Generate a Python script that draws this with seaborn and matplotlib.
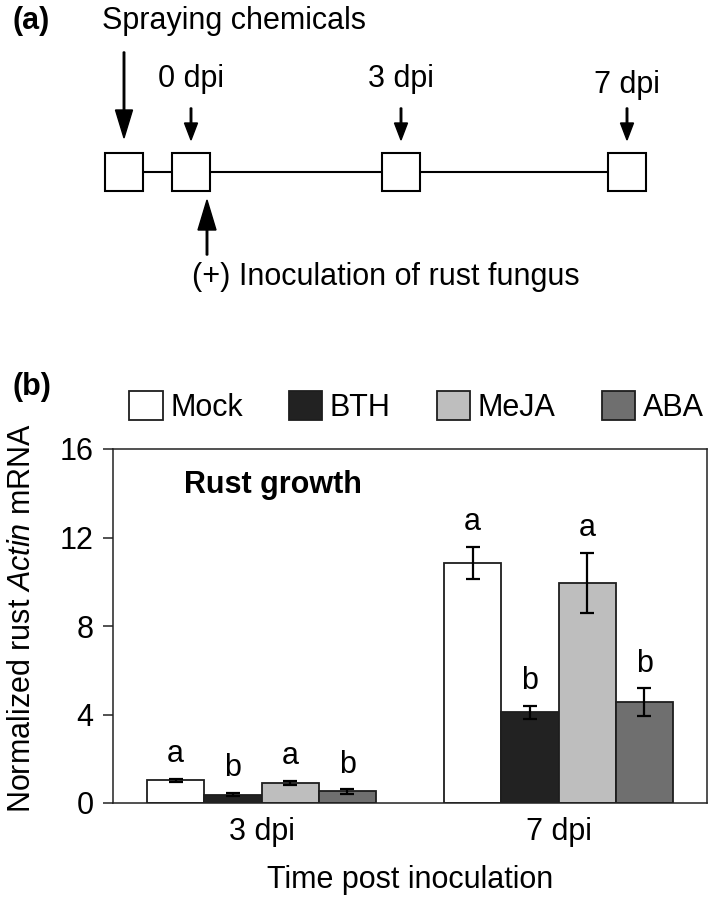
import matplotlib
matplotlib.use("Agg")
import matplotlib.pyplot as plt
import numpy as np
import pandas as pd
import seaborn as sns

# ---------------- data ----------------
times = ["3 dpi", "7 dpi"]
treatments = ["Mock", "BTH", "MeJA", "ABA"]
mean_3dpi = [1.02, 0.38, 0.92, 0.52]
err_3dpi = [0.08, 0.08, 0.09, 0.10]
mean_7dpi = [10.85, 4.10, 9.95, 4.55]
err_7dpi = [0.72, 0.30, 1.35, 0.63]
letters_3dpi = ["a", "b", "a", "b"]
letters_7dpi = ["a", "b", "a", "b"]
bar_colors = ["#ffffff", "#222222", "#bebebe", "#6f6f6f"]

# schematic timeline (panel a)
timeline_labels = ["", "0 dpi", "3 dpi", "7 dpi"]
timeline_x = [124, 191, 401, 627]   # box centres, px

df = pd.DataFrame({
    "time": np.repeat(times, len(treatments)),
    "treatment": treatments * len(times),
    "value": mean_3dpi + mean_7dpi,
})
errs = {"3 dpi": err_3dpi, "7 dpi": err_7dpi}
letters = {"3 dpi": letters_3dpi, "7 dpi": letters_7dpi}
means = {"3 dpi": mean_3dpi, "7 dpi": mean_7dpi}

sns.set_theme(style="white")
plt.rcParams["font.family"] = ["Liberation Sans", "DejaVu Sans"]
plt.rcParams["mathtext.fontset"] = "custom"
plt.rcParams["mathtext.rm"] = "Liberation Sans"
plt.rcParams["mathtext.it"] = "Liberation Sans:italic"
for key in ["text.color", "axes.labelcolor", "xtick.color", "ytick.color"]:
    plt.rcParams[key] = "black"

FS = 22
W, H = 709, 902
fig = plt.figure(figsize=(W / 100, H / 100), dpi=100)

# ---------------- panel (a): schematic ----------------
TOP_H = 300
axa = fig.add_axes([0, 1 - TOP_H / H, 1, TOP_H / H])
axa.set_xlim(0, W)
axa.set_ylim(TOP_H, 0)
axa.axis("off")

axa.text(13, 21, "(a)", fontsize=FS, fontweight="bold", ha="left", va="center")
axa.text(102, 29, "Spraying chemicals", fontsize=FS, ha="left", va="baseline")

box = 38
line_y = 172
axa.plot([timeline_x[0], timeline_x[-1]], [line_y, line_y], color="black", lw=1.5, zorder=1)
for x in timeline_x:
    axa.add_patch(plt.Rectangle((x - box / 2, line_y - box / 2), box, box,
                                facecolor="white", edgecolor="black", lw=1.5, zorder=2))

# big spraying arrow
axa.arrow(timeline_x[0], 52, 0, 86, width=1.5, head_width=17, head_length=28,
          length_includes_head=True, color="black")
# dpi arrows and labels
for x, lab in zip(timeline_x[1:], timeline_labels[1:]):
    axa.arrow(x, 108, 0, 32, width=1.5, head_width=13, head_length=17,
              length_includes_head=True, color="black")
    ty = 93 if lab == "7 dpi" else 87
    axa.text(x, ty, lab, fontsize=FS, ha="center", va="baseline")
# inoculation arrow
axa.arrow(207, 255, 0, -55, width=1.5, head_width=18, head_length=30,
          length_includes_head=True, color="black")
axa.text(192, 285, "(+) Inoculation of rust fungus", fontsize=FS, ha="left", va="baseline")

# ---------------- panel (b): bar chart ----------------
ax = fig.add_axes([113 / W, 1 - 803 / H, 594 / W, 354 / H])
sns.barplot(data=df, x="time", y="value", hue="treatment", order=times,
            hue_order=treatments, palette=bar_colors, saturation=1,
            width=0.77, edgecolor="#1e1e1e", linewidth=1.3, errorbar=None, ax=ax)

bar_containers = list(ax.containers)
for i, cont in enumerate(bar_containers):
    for j, bar in enumerate(cont.patches):
        t = times[j]
        xc = bar.get_x() + bar.get_width() / 2
        m = means[t][i]
        e = errs[t][i]
        ax.errorbar(xc, m, yerr=e, fmt="none", ecolor="black", elinewidth=1.6,
                    capsize=4.7, capthick=1.6, zorder=5)
        ax.annotate(letters[t][i], (xc, m + e), xytext=(0, 12), textcoords="offset points",
                    ha="center", va="baseline", fontsize=FS)

ax.set_xlim(-0.5, 1.5)
ax.set_ylim(0, 16)
ax.set_yticks([0, 4, 8, 12, 16])
ax.tick_params(axis="y", direction="out", length=7, width=1.1, pad=7, labelsize=FS,
               left=True, color="#222222")
ax.tick_params(axis="x", length=0, pad=10, labelsize=FS)
for sp in ax.spines.values():
    sp.set_visible(True)
    sp.set_color("#222222")
    sp.set_linewidth(1.1)
ax.set_xlabel("Time post inoculation", fontsize=FS, labelpad=13)
ax.set_ylabel("")
fig.text(22 / W, 1 - 618 / H, r"Normalized rust $\mathit{Actin}$ mRNA", rotation=90,
         ha="center", va="center", fontsize=FS)
ax.text(0.27, 0.898, "Rust growth", transform=ax.transAxes, ha="center", va="center",
        fontsize=FS, fontweight="bold")

handles, labels = ax.get_legend_handles_labels()
ax.legend_.remove()
for h in handles:
    h.set_edgecolor("#1e1e1e")
    h.set_linewidth(1.3)
fig.legend(handles, labels, loc="center left", bbox_to_anchor=(129 / W, 1 - 407 / H),
           ncol=4, frameon=False, fontsize=FS, handlelength=1.1, handleheight=1.1,
           handletextpad=0.25, columnspacing=1.5, borderaxespad=0, borderpad=0)

fig.text(12 / W, 1 - 387 / H, "(b)", fontsize=FS, fontweight="bold", ha="left", va="center")

fig.savefig("out.png", dpi=100)
